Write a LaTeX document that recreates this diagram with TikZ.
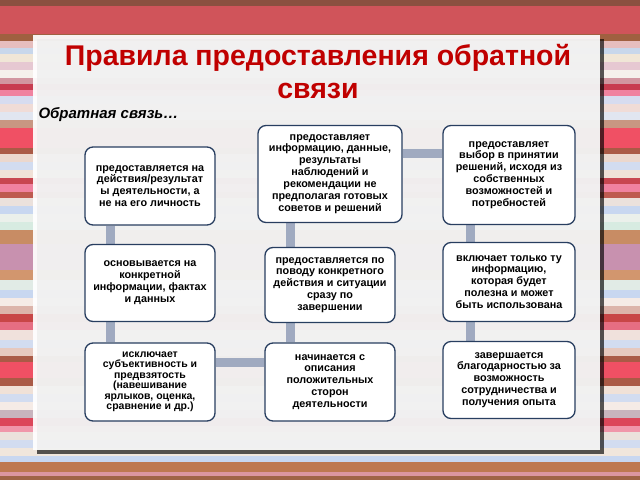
\documentclass[tikz,border=0pt]{standalone}
\usepackage{fontspec}
\setmainfont{Liberation Sans}
\usetikzlibrary{backgrounds}
\definecolor{titlered}{RGB}{192,0,0}
\definecolor{boxline}{RGB}{40,62,96}
\definecolor{barcol}{RGB}{160,170,192}

\begin{document}
\begin{tikzpicture}[x=1pt,y=-1pt,
	rule/.style={draw=boxline, line width=1.3pt, fill=white, rounded corners=8pt, align=center, inner sep=2pt, font=\fontsize{10.8}{11.9}\selectfont\bfseries},
	bar/.style={draw=barcol, line width=9pt}]
	\useasboundingbox (0,0) rectangle (640,480);
	% striped backdrop and the white sheet
	\begin{scope}[on background layer]
		\foreach \ya/\yb/\r/\g/\b in {0/6/139/80/64, 6/34/208/84/90, 34/41/160/96/64, 41/48/230/190/190, 48/54/200/215/235, 54/62/240/230/215, 62/70/230/200/210, 70/78/245/240/235, 78/84/210/150/160, 84/90/200/60/80, 90/96/240/130/160, 96/104/215/220/240, 104/112/240/220/215, 112/120/225/230/240, 120/128/200/150/130, 128/148/240/80/100, 148/154/170/90/70, 154/162/235/215/205, 162/170/210/220/240, 170/178/240/225/215, 178/184/200/70/80, 184/192/240/130/160, 192/198/190/90/80, 198/206/235/225/220, 206/214/200/215/240, 214/222/235/240/235, 222/230/215/235/225, 230/244/200/140/100, 244/270/200/145/175, 270/280/210/150/110, 280/290/225/235/230, 290/298/200/215/240, 298/306/245/235/230, 306/314/220/180/170, 314/322/200/70/70, 322/330/230/110/130, 330/340/240/225/220, 340/348/210/220/240, 348/356/230/200/190, 356/362/170/90/70, 362/378/240/80/100, 378/386/170/90/70, 386/394/240/225/215, 394/402/210/220/240, 402/410/245/235/230, 410/418/200/180/190, 418/426/220/70/90, 426/432/240/150/170, 432/440/235/225/220, 440/448/210/220/240, 448/456/240/230/220, 456/462/200/215/240, 462/472/190/120/80, 472/476/220/150/160, 476/480/160/100/70}
		{
			\definecolor{stripe}{RGB}{\r,\g,\b}
			\fill[stripe] (0,\ya-0.3) rectangle (640,\yb+0.3);
		}
		\fill[black, opacity=0.65] (37,39) rectangle (604,454);
		\fill[white, opacity=0.92] (33,35) rectangle (600,450);
	\end{scope}

	\node[text=titlered, align=center, font=\fontsize{28.5}{33}\selectfont\bfseries] (title) at (318,72) {Правила предоставления обратной\\связи};
	\node[anchor=west, font=\fontsize{15}{17}\selectfont\bfseries\itshape] (lead) at (35,115) {Обратная связь…};

	\draw
	node[rule, minimum width=130pt, minimum height=78pt] at (150,186) (dejst) {предоставляется на\\действия/результат\\ы деятельности, а\\не на его личность}
	node[rule, minimum width=130pt, minimum height=77pt] at (150,283) (osnov) {основывается на\\конкретной\\информации, фактах\\и данных}
	node[rule, minimum width=130pt, minimum height=78pt, font=\fontsize{10.5}{10.5}\selectfont\bfseries] at (150,382) (iskl) {исключает\\субъективность и\\предвзятость\\(навешивание\\ярлыков, оценка,\\сравнение и др.)}
	node[rule, minimum width=144pt, minimum height=97pt] at (330,174) (info) {предоставляет\\информацию, данные,\\результаты\\наблюдений и\\рекомендации не\\предполагая готовых\\советов и решений}
	node[rule, minimum width=130pt, minimum height=75pt] at (330,285) (povod) {предоставляется по\\поводу конкретного\\действия и ситуации\\сразу по\\завершении}
	node[rule, minimum width=130pt, minimum height=78pt] at (330,382) (nach) {начинается с\\описания\\положительных\\сторон\\деятельности}
	node[rule, minimum width=132pt, minimum height=99pt] at (509,175) (vybor) {предоставляет\\выбор в принятии\\решений, исходя из\\собственных\\возможностей и\\потребностей}
	node[rule, minimum width=132pt, minimum height=79pt] at (509,282) (tolko) {включает только ту\\информацию,\\которая будет\\полезна и может\\быть использована}
	node[rule, minimum width=132pt, minimum height=77pt] at (509,380) (blag) {завершается\\благодарностью за\\возможность\\сотрудничества и\\получения опыта};

	% links behind the boxes
	\begin{scope}[on background layer]
		\draw[bar] ([xshift=-40pt]dejst.south) -- ([xshift=-40pt]osnov.north);
		\draw[bar] ([xshift=-40pt]osnov.south) -- ([xshift=-40pt]iskl.north);
		\draw[bar] ([yshift=20pt]iskl.east) -- ([yshift=20pt]iskl.east -| nach.west);
		\draw[bar] ([xshift=-40pt]nach.north) -- ([xshift=-40pt]povod.south);
		\draw[bar] ([xshift=-40pt]povod.north) -- ([xshift=-40pt]info.south);
		\draw[bar] ([yshift=21pt]info.east) -- ([yshift=21pt]info.east -| vybor.west);
		\draw[bar] ([xshift=-39pt]vybor.south) -- ([xshift=-39pt]tolko.north);
		\draw[bar] ([xshift=-39pt]tolko.south) -- ([xshift=-39pt]blag.north);
	\end{scope}
\end{tikzpicture}
\end{document}
